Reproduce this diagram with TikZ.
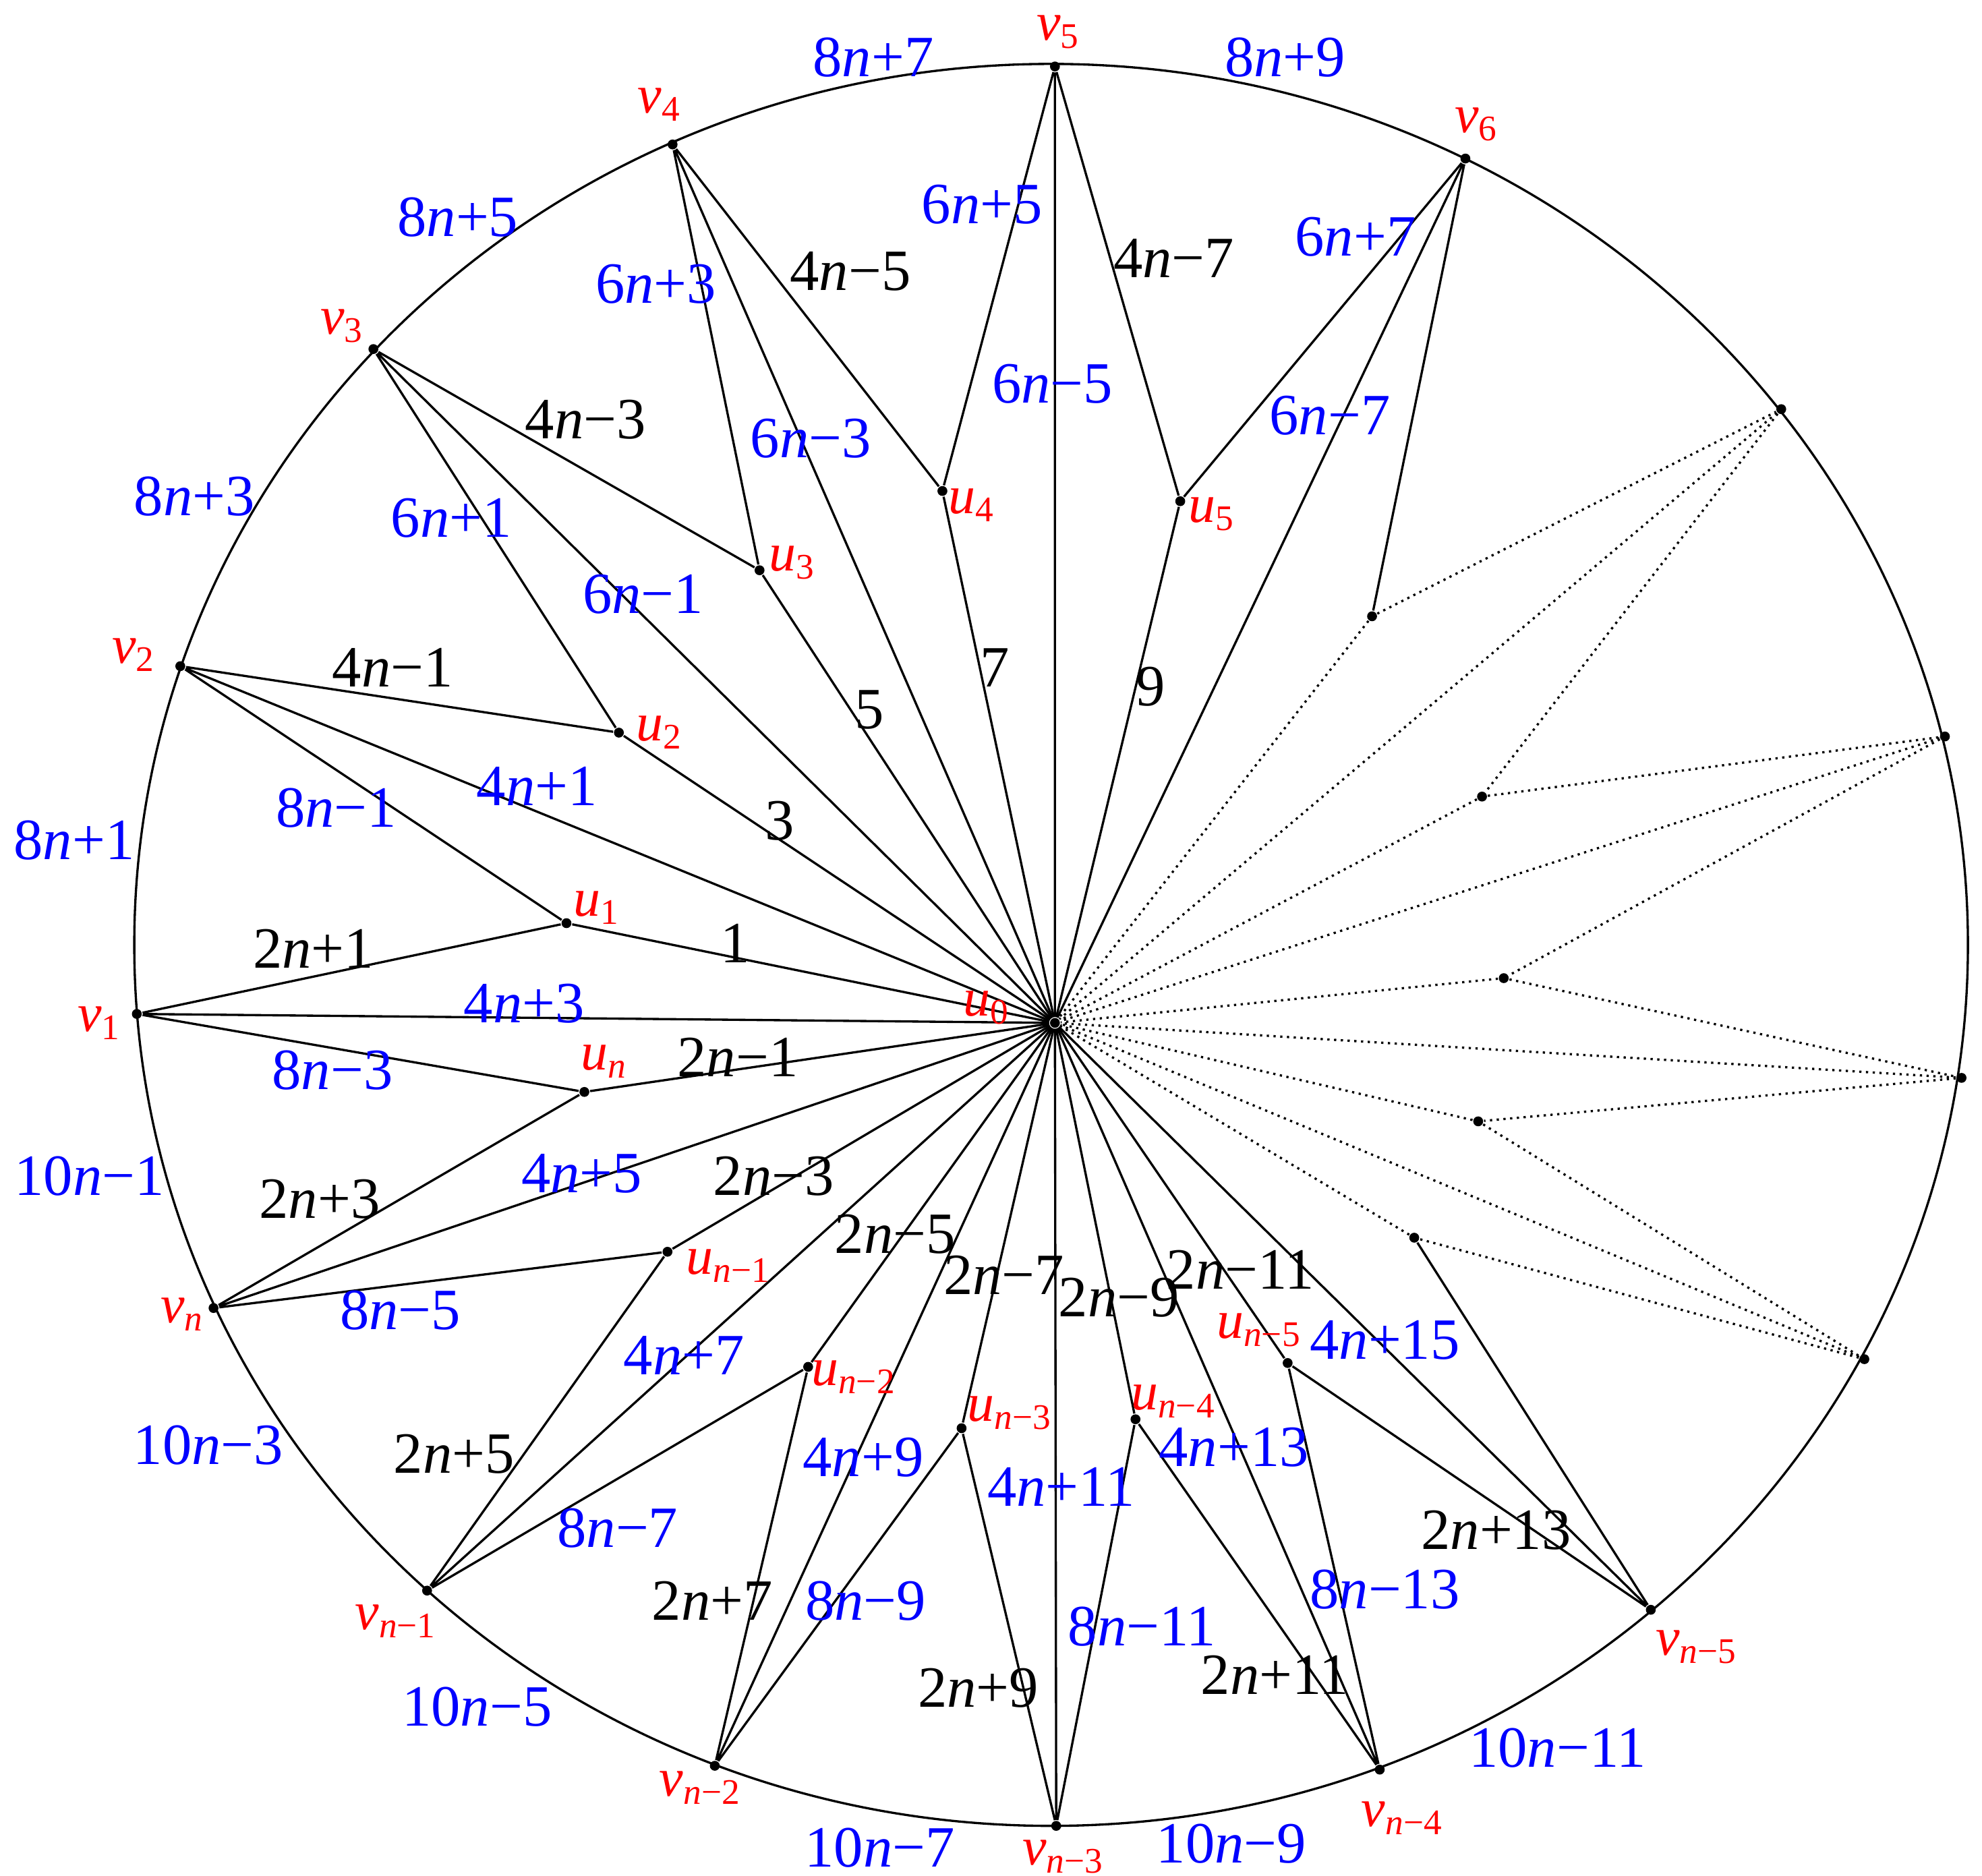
\documentclass[tikz,border=0pt]{standalone}
\usepackage{fontspec}
\setmainfont{Liberation Serif}
\begin{document}
\begin{tikzpicture}[x=0.01cm,y=-0.01cm,
  dot/.style={circle,fill,inner sep=0pt,minimum size=2.2pt},
  ed/.style={line width=0.5pt},
  dt/.style={line width=0.5pt,densely dotted},
  bl/.style={text=blue,font=\fontsize{13}{13}\selectfont},
  bk/.style={text=black,font=\fontsize{13}{13}\selectfont},
  rd/.style={text=red,font=\fontsize{12}{12}\selectfont}]
\useasboundingbox (0,0) rectangle (1550,1467);
\draw[ed] (822,739) ellipse [x radius=717, y radius=-689];
\node[dot] (u0) at (825,800) {};
\foreach \n/\x/\y in {v1/107/793,v2/141/521,v3/292/273,v4/526/113,v5/825/52,v6/1146/124,
  w1/1393/320,w2/1521/576,w3/1534/843,w4/1458/1063,vm5/1291/1259,vm4/1079/1384,vm3/826/1428,
  vm2/559/1381,vm1/334/1244,vn/167/1023,
  u1/443/722,u2/484/573,u3/594/446,u4/737/384,u5/923/392,
  x1/1073/482,x2/1159/623,x3/1176/765,x4/1156/877,x5/1106/968,
  um5/1007/1066,um4/888/1110,um3/752/1117,um2/632/1069,um1/522/979,un/457/854}
  \node[dot] (\n) at (\x,\y) {};
% solid spokes
\foreach \a/\b/\c in {v1/un/u1,v2/u1/u2,v3/u2/u3,v4/u3/u4,v5/u4/u5,v6/u5/x1,vm5/x5/um5,
  vm4/um5/um4,vm3/um4/um3,vm2/um3/um2,vm1/um2/um1,vn/um1/un}
  \draw[ed] (\b) -- (\a) -- (\c) (\a) -- (u0);
\foreach \a in {u1,u2,u3,u4,u5,um5,um4,um3,um2,um1,un}
  \draw[ed] (\a) -- (u0);
% dotted
\foreach \a/\b/\c in {w1/x1/x2,w2/x2/x3,w3/x3/x4,w4/x4/x5}
  \draw[dt] (\b) -- (\a) -- (\c) (\a) -- (u0);
\foreach \a in {x1,x2,x3,x4,x5}
  \draw[dt] (\a) -- (u0);
% blue labels
\foreach \t/\x/\y [count=\i] in {8\textit{n}+7/683/45,8\textit{n}+9/1005/45,8\textit{n}+5/358/170,
 6\textit{n}+5/768/160,6\textit{n}+7/1060/185,6\textit{n}+3/513/222,8\textit{n}+3/152/388,
 6\textit{n}+1/353/405,6\textit{n}−5/823/300,6\textit{n}−3/634/343,6\textit{n}−7/1040/325,
 6\textit{n}−1/503/465,8\textit{n}−1/263/632,4\textit{n}+1/420/615,8\textit{n}+1/58/657,
 4\textit{n}+3/410/785,8\textit{n}−3/260/837,10\textit{n}−1/70/920,4\textit{n}+5/455/918,
 8\textit{n}−5/313/1025,4\textit{n}+7/535/1060,10\textit{n}−3/163/1130,4\textit{n}+9/675/1140,
 8\textit{n}−7/483/1195,4\textit{n}+11/830/1163,4\textit{n}+13/965/1132,4\textit{n}+15/1083/1048,
 8\textit{n}−9/677/1252,8\textit{n}−11/893/1272,8\textit{n}−13/1083/1243,10\textit{n}−5/373/1335,
 10\textit{n}−7/688/1445,10\textit{n}−9/963/1442,10\textit{n}−11/1218/1367}
  \node[bl] (b\i) at (\x,\y) {\t};
\foreach \t/\x/\y [count=\i] in {4\textit{n}−5/665/212,4\textit{n}−7/918/202,4\textit{n}−3/458/328,
 4\textit{n}−1/307/522,2\textit{n}+1/245/742,1/575/738,3/610/642,5/680/555,7/778/522,9/900/537,
 2\textit{n}−1/577/827,2\textit{n}+3/250/938,2\textit{n}−3/605/920,2\textit{n}−5/700/965,
 2\textit{n}−7/785/997,2\textit{n}−9/875/1015,2\textit{n}−11/970/993,2\textit{n}+5/355/1137,
 2\textit{n}+7/557/1252,2\textit{n}+9/765/1320,2\textit{n}+11/997/1310,2\textit{n}+13/1170/1197}
  \node[bk] (k\i) at (\x,\y) {\t};
\foreach \s/\x/\y [count=\i] in {5/828/25,4/516/82,6/1155/97,3/268/255,2/105/512,1/78/800,
 \textit{n}/143/1028,\textit{n}−1/310/1268,\textit{n}−2/548/1398,\textit{n}−3/832/1452,
 \textit{n}−4/1097/1422,\textit{n}−5/1327/1288}
  \node[rd] (lv\i) at (\x,\y) {\textit{v}\textsubscript{\s}};
\foreach \s/\x/\y [count=\i] in {4/760/395,5/948/402,3/620/440,2/516/573,1/467/710,0/772/788,
 \textit{n}/473/830,\textit{n}−1/570/990,\textit{n}−2/668/1077,\textit{n}−3/790/1105,
 \textit{n}−4/918/1096,\textit{n}−5/985/1040}
  \node[rd] (lu\i) at (\x,\y) {\textit{u}\textsubscript{\s}};
\end{tikzpicture}
\end{document}
